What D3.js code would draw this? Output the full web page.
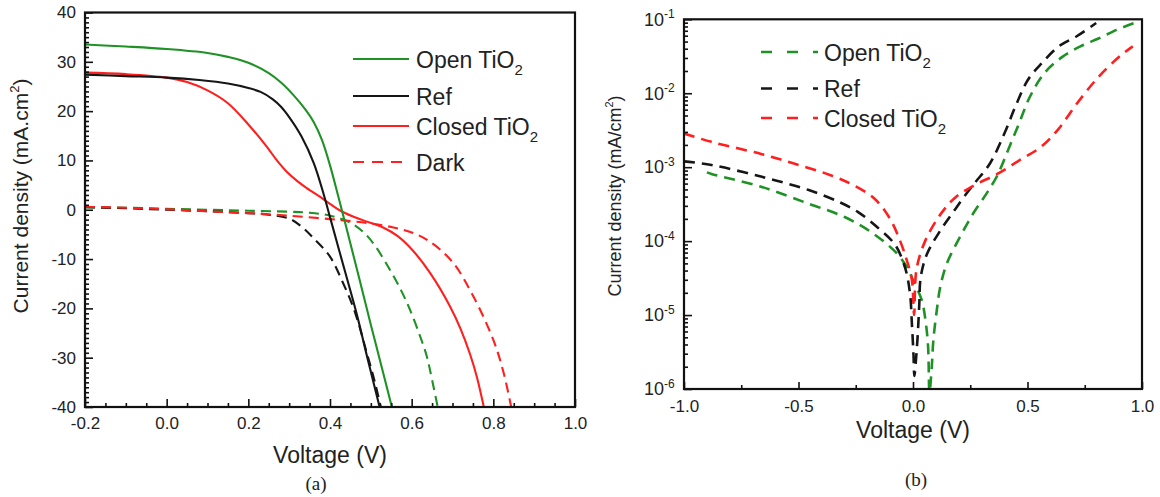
<!DOCTYPE html>
<html><head><meta charset="utf-8">
<script src="https://cdn.jsdelivr.net/npm/d3@7"></script>
<style>body{margin:0;background:#fff} svg{display:block}</style>
</head><body>
<svg id="c" width="1160" height="497"></svg>
<script>
// ---------- DATA: panel (a)  [voltage V, current density mA/cm2] ----------
const openLight = [[-0.2,33.5],[-0.1,33.1],[0.0,32.6],[0.1,31.8],[0.15,31.0],[0.2,29.8],[0.25,27.7],[0.28,25.8],[0.31,23.3],[0.34,20.3],[0.36,17.8],[0.38,14.2],[0.40,9.0],[0.42,2.8],[0.44,-3.6],[0.47,-13.4],[0.5,-23.3],[0.53,-33],[0.553,-40.5]];
const refLight = [[-0.2,27.4],[-0.1,27.1],[0.0,26.8],[0.08,26.3],[0.15,25.6],[0.2,24.7],[0.23,23.9],[0.26,22.4],[0.28,20.9],[0.3,18.8],[0.33,14.9],[0.36,9.5],[0.385,3.0],[0.40,-1.5],[0.43,-10.5],[0.465,-21],[0.49,-29.5],[0.523,-40.5]];
const closedLight = [[-0.2,27.8],[-0.1,27.5],[0.0,26.8],[0.05,25.9],[0.1,24.2],[0.15,21.6],[0.2,17.3],[0.245,12.8],[0.27,10.0],[0.294,7.7],[0.32,5.8],[0.343,4.4],[0.376,2.6],[0.40,1.2],[0.43,-0.4],[0.48,-2.1],[0.53,-3.6],[0.565,-5.3],[0.6,-8.0],[0.645,-12.8],[0.694,-19.6],[0.72,-24.2],[0.743,-29.3],[0.76,-34],[0.778,-40.5]];
const openDark = [[-0.2,0.5],[-0.1,0.4],[0.0,0.2],[0.1,0.0],[0.2,-0.2],[0.3,-0.4],[0.35,-0.6],[0.4,-1.2],[0.449,-2.6],[0.48,-4.4],[0.506,-6.8],[0.547,-12.2],[0.575,-16.5],[0.596,-20.3],[0.62,-25.5],[0.637,-29.7],[0.65,-34.5],[0.665,-40.5]];
const refDark = [[-0.2,0.5],[-0.1,0.3],[0.0,0.0],[0.1,-0.3],[0.2,-0.7],[0.25,-1.0],[0.3,-1.8],[0.33,-3.4],[0.36,-5.8],[0.4,-9.5],[0.43,-14.5],[0.46,-20.5],[0.49,-29],[0.51,-35],[0.526,-40.5]];
const closedDark = [[-0.2,0.6],[-0.1,0.4],[0.0,0.1],[0.1,-0.3],[0.2,-0.7],[0.3,-1.2],[0.4,-1.9],[0.45,-2.3],[0.5,-2.8],[0.55,-3.5],[0.6,-4.6],[0.645,-6.5],[0.7,-10.6],[0.75,-17.4],[0.8,-26.4],[0.825,-33],[0.845,-40.5]];

// ---------- DATA: panel (b)  [voltage V, |current density| mA/cm2] ----------
const openLog = [[-0.9,8.5e-4],[-0.88,8.1e-4],[-0.66,5.4e-4],[-0.455,3.2e-4],[-0.296,2.1e-4],[-0.173,1.26e-4],[-0.07,6.8e-5],[-0.02,4.1e-5],[0.0,2.95e-5],[0.038,1.6e-5],[0.056,7.8e-6],[0.066,3.7e-6],[0.072,9.0e-7],[0.082,2.0e-6],[0.089,4.6e-6],[0.104,1.17e-5],[0.119,2.4e-5],[0.148,5.0e-5],[0.206,1.15e-4],[0.264,2.4e-4],[0.323,4.5e-4],[0.367,7.6e-4],[0.415,1.7e-3],[0.463,3.9e-3],[0.51,8.9e-3],[0.573,1.86e-2],[0.652,3.1e-2],[0.731,4.3e-2],[0.81,5.5e-2],[0.889,7.2e-2],[0.97,9.0e-2]];
const refLog = [[-1.0,1.2e-3],[-0.88,1.07e-3],[-0.66,7.4e-4],[-0.455,4.9e-4],[-0.315,3.3e-4],[-0.238,2.45e-4],[-0.157,1.55e-4],[-0.078,8.9e-5],[-0.034,4.3e-5],[-0.013,1.95e-5],[-0.005,7.8e-6],[0.002,3.0e-6],[0.006,1.5e-6],[0.013,2.5e-6],[0.02,5.0e-6],[0.027,1.3e-5],[0.034,3.3e-5],[0.062,6.8e-5],[0.12,1.4e-4],[0.186,2.75e-4],[0.236,4.5e-4],[0.273,6.3e-4],[0.336,1.12e-3],[0.399,2.85e-3],[0.447,6.6e-3],[0.494,1.38e-2],[0.52,1.82e-2],[0.557,2.45e-2],[0.636,4.3e-2],[0.715,5.9e-2],[0.8,8.9e-2]];
const closedLog = [[-1.0,2.85e-3],[-0.88,2.2e-3],[-0.66,1.5e-3],[-0.52,1.12e-3],[-0.36,7.8e-4],[-0.26,5.7e-4],[-0.17,3.8e-4],[-0.1,2.0e-4],[-0.056,1.0e-4],[-0.027,5.5e-5],[-0.005,3.0e-5],[0.005,1.0e-5],[0.015,4.1e-5],[0.053,1.0e-4],[0.12,2.3e-4],[0.185,3.9e-4],[0.273,5.8e-4],[0.368,8.1e-4],[0.463,1.23e-3],[0.557,1.86e-3],[0.636,3.3e-3],[0.715,7.2e-3],[0.81,1.66e-2],[0.905,3.2e-2],[0.96,4.3e-2]];

// ---------- TICKS / LABELS ----------
const xTicksA = [-0.2,0.0,0.2,0.4,0.6,0.8,1.0];
const xTickLabelsA = ["-0.2","0.0","0.2","0.4","0.6","0.8","1.0"];
const yTicksA = [-40,-30,-20,-10,0,10,20,30,40];
const yTickLabelsA = ["-40","-30","-20","-10","0","10","20","30","40"];
const xTicksB = [-1.0,-0.5,0.0,0.5,1.0];
const xTickLabelsB = ["-1.0","-0.5","0.0","0.5","1.0"];
const yTicksB = [1e-6,1e-5,1e-4,1e-3,1e-2,1e-1];
const yTickExpB = ["-6","-5","-4","-3","-2","-1"];
const legendA = ["Open TiO","Ref","Closed TiO","Dark"];
const legendSubA = ["2","","2",""];
const legendB = ["Open TiO","Ref","Closed TiO"];
const legendSubB = ["2","","2"];

// ---------- STYLE ----------
const GREEN = "#1f9226", BLACK = "#161616", RED = "#ff1f1f";
const FONT = "'Liberation Sans', Arial, Helvetica, sans-serif";
const SERIF = "'Liberation Serif', 'Times New Roman', serif";

const svg = d3.select("#c");
svg.append("rect").attr("width",1160).attr("height",497).attr("fill","#fff");
const defs = svg.append("defs");

function styleAxis(g, size){
  g.select(".domain").remove();
  g.selectAll(".tick line").attr("stroke","#111").attr("stroke-width",1.6);
  g.selectAll("text").attr("fill","#222").attr("font-family",FONT).attr("font-size",size);
}

// ================= PANEL (a) =================
const xA = d3.scaleLinear().domain([-0.2,1.0]).range([85,575]);
const yA = d3.scaleLinear().domain([-40,40]).range([407,12.5]);
defs.append("clipPath").attr("id","clipA").append("rect")
  .attr("x",85).attr("y",12.5).attr("width",490).attr("height",394.5);

const lineA = d3.line().x(d=>xA(d[0])).y(d=>yA(d[1])).curve(d3.curveCatmullRom.alpha(0.5));
const gA = svg.append("g").attr("clip-path","url(#clipA)");
const seriesA = [
  {d:openDark, c:GREEN, dash:"10,6"},
  {d:refDark, c:BLACK, dash:"10,6"},
  {d:closedDark, c:RED, dash:"10,6"},
  {d:closedLight, c:RED, dash:null},
  {d:refLight, c:BLACK, dash:null},
  {d:openLight, c:GREEN, dash:null}
];
seriesA.forEach(s=>{
  gA.append("path").attr("d",lineA(s.d)).attr("fill","none")
    .attr("stroke",s.c).attr("stroke-width",2.1)
    .attr("stroke-dasharray",s.dash);
});

// axes (a)
const minorYA = d3.range(-40,41,1).filter(v=>v%10!==0);
const minorXA = d3.range(-0.2,1.0001,0.05).map(v=>+v.toFixed(2)).filter(v=>Math.abs(Math.round(v*5)-v*5)>1e-6);
let g;
g = svg.append("g").attr("transform","translate(85,0)")
  .call(d3.axisLeft(yA).tickValues(minorYA).tickSize(-4).tickFormat(""));
styleAxis(g,17);
g = svg.append("g").attr("transform","translate(85,0)")
  .call(d3.axisLeft(yA).tickValues(yTicksA).tickSize(-8).tickPadding(9).tickFormat((d,i)=>yTickLabelsA[i]));
styleAxis(g,17);
g = svg.append("g").attr("transform","translate(0,407)")
  .call(d3.axisBottom(xA).tickValues(minorXA).tickSize(-4).tickFormat(""));
styleAxis(g,17);
g = svg.append("g").attr("transform","translate(0,407)")
  .call(d3.axisBottom(xA).tickValues(xTicksA).tickSize(-8).tickPadding(10).tickFormat((d,i)=>xTickLabelsA[i]));
styleAxis(g,17);
svg.append("rect").attr("x",85).attr("y",12.5).attr("width",490).attr("height",394.5)
  .attr("fill","none").attr("stroke","#111").attr("stroke-width",2.2);

// titles (a)
svg.append("text").attr("x",330).attr("y",463).attr("text-anchor","middle")
  .attr("font-family",FONT).attr("font-size",23).attr("fill","#222").text("Voltage (V)");
let t = svg.append("text").attr("transform","translate(28,196) rotate(-90)")
  .attr("text-anchor","middle").attr("font-family",FONT).attr("font-size",21).attr("fill","#222");
t.append("tspan").text("Current density (mA.cm");
t.append("tspan").attr("font-size",13).attr("dy",-9).text("2");
t.append("tspan").attr("dy",9).text(")");
svg.append("text").attr("x",316).attr("y",490).attr("text-anchor","middle")
  .attr("font-family",SERIF).attr("font-size",19).attr("fill","#222").text("(a)");

// legend (a)
const legColA = [GREEN,BLACK,RED,RED];
const legDashA = [null,null,null,"11,8"];
const legYA = [59,96,126,162];
legendA.forEach((name,i)=>{
  svg.append("line").attr("x1",353).attr("x2",409).attr("y1",legYA[i]).attr("y2",legYA[i])
    .attr("stroke",legColA[i]).attr("stroke-width",2.1).attr("stroke-dasharray",legDashA[i]);
  const tt = svg.append("text").attr("x",416).attr("y",legYA[i]+8.5)
    .attr("font-family",FONT).attr("font-size",23).attr("fill","#222");
  tt.append("tspan").text(name);
  if (legendSubA[i]) tt.append("tspan").attr("font-size",15).attr("dy",7).text(legendSubA[i]);
});

// ================= PANEL (b) =================
const xB = d3.scaleLinear().domain([-1,1]).range([684,1142]);
const yB = d3.scaleLog().domain([1e-6,1e-1]).range([389,19.3]);
defs.append("clipPath").attr("id","clipB").append("rect")
  .attr("x",684).attr("y",19.3).attr("width",458).attr("height",369.7);
const lineB = d3.line().x(d=>xB(d[0])).y(d=>yB(d[1])).curve(d3.curveCatmullRom.alpha(0.5));
const gB = svg.append("g").attr("clip-path","url(#clipB)");
[[openLog,GREEN],[refLog,BLACK],[closedLog,RED]].forEach(([d,c])=>{
  gB.append("path").attr("d",lineB(d)).attr("fill","none")
    .attr("stroke",c).attr("stroke-width",2.6).attr("stroke-dasharray","11,7");
});

// axes (b)
const minorYB = [];
[-6,-5,-4,-3,-2].forEach(k=>{ for(let m=2;m<=9;m++) minorYB.push(m*Math.pow(10,k)); });
const minorXB = [-0.75,-0.25,0.25,0.75];
g = svg.append("g").attr("transform","translate(684,0)")
  .call(d3.axisLeft(yB).tickValues(minorYB).tickSize(-4).tickFormat(""));
styleAxis(g,18);
g = svg.append("g").attr("transform","translate(684,0)")
  .call(d3.axisLeft(yB).tickValues(yTicksB).tickSize(-8).tickPadding(17).tickFormat(()=>"10"));
styleAxis(g,18);
g.selectAll(".tick text").each(function(d,i){
  d3.select(this).append("tspan").attr("font-size",12).attr("dy","-0.6em").text(yTickExpB[i]);
}).attr("text-anchor","start").attr("x",-(684-644));
g = svg.append("g").attr("transform","translate(0,389)")
  .call(d3.axisBottom(xB).tickValues(minorXB).tickSize(-4).tickFormat(""));
styleAxis(g,17);
g = svg.append("g").attr("transform","translate(0,389)")
  .call(d3.axisBottom(xB).tickValues(xTicksB).tickSize(-7).tickPadding(11).tickFormat((d,i)=>xTickLabelsB[i]));
styleAxis(g,17);
svg.append("rect").attr("x",684).attr("y",19.3).attr("width",458).attr("height",369.7)
  .attr("fill","none").attr("stroke","#111").attr("stroke-width",2.2);

// titles (b)
svg.append("text").attr("x",913).attr("y",438).attr("text-anchor","middle")
  .attr("font-family",FONT).attr("font-size",23).attr("fill","#222").text("Voltage (V)");
t = svg.append("text").attr("transform","translate(621,196) rotate(-90)")
  .attr("text-anchor","middle").attr("font-family",FONT).attr("font-size",18).attr("fill","#222");
t.append("tspan").text("Current density (mA/cm");
t.append("tspan").attr("font-size",11).attr("dy",-8).text("2");
t.append("tspan").attr("dy",8).text(")");
svg.append("text").attr("x",916).attr("y",486).attr("text-anchor","middle")
  .attr("font-family",SERIF).attr("font-size",19).attr("fill","#222").text("(b)");

// legend (b)
const legColB = [GREEN,BLACK,RED];
const legYB = [52,88.5,118];
legendB.forEach((name,i)=>{
  svg.append("line").attr("x1",761).attr("x2",818).attr("y1",legYB[i]).attr("y2",legYB[i])
    .attr("stroke",legColB[i]).attr("stroke-width",2.6).attr("stroke-dasharray","11,15");
  const tt = svg.append("text").attr("x",824).attr("y",legYB[i]+8.5)
    .attr("font-family",FONT).attr("font-size",23).attr("fill","#222");
  tt.append("tspan").text(name);
  if (legendSubB[i]) tt.append("tspan").attr("font-size",15).attr("dy",7).text(legendSubB[i]);
});
</script>
</body></html>
